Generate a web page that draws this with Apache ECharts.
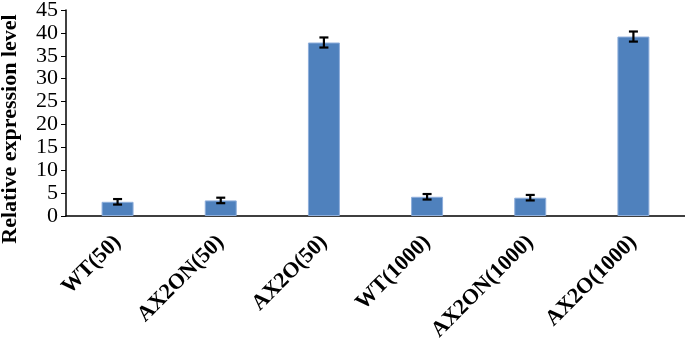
<!DOCTYPE html>
<html>
<head>
<meta charset="utf-8">
<script src="https://cdn.jsdelivr.net/npm/echarts@6/dist/echarts.min.js"></script>
<style>html,body{margin:0;padding:0;background:#fff}#c{width:685px;height:340px}</style>
</head>
<body>
<div id="c"></div>
<script>
var categories = ['WT(50)', 'AX2ON(50)', 'AX2O(50)', 'WT(1000)', 'AX2ON(1000)', 'AX2O(1000)'];
var values = [3.1, 3.4, 37.9, 4.2, 4.0, 39.2];
var errors = [0.6, 0.6, 1.1, 0.6, 0.6, 1.1];
var yTicks = [0, 5, 10, 15, 20, 25, 30, 35, 40, 45];

var serif = '"Liberation Serif", "Times New Roman", serif';
var chart = echarts.init(document.getElementById('c'), null, {renderer: 'canvas'});
var errData = values.map(function (v, i) { return [i, v - errors[i], v + errors[i]]; });

chart.setOption({
  animation: false,
  grid: {left: 66, right: 0, top: 10, bottom: 124, containLabel: false, outerBoundsMode: 'none'},
  xAxis: {
    type: 'category',
    data: categories,
    axisLine: {lineStyle: {color: '#000', width: 1.5}},
    axisTick: {show: false},
    axisLabel: {rotate: 45, margin: 23, interval: 0, hideOverlap: false, color: '#000', fontFamily: serif, fontWeight: 'bold', fontSize: 22}
  },
  yAxis: {
    type: 'value',
    min: yTicks[0], max: yTicks[yTicks.length - 1], interval: 5,
    name: 'Relative expression level',
    nameLocation: 'middle',
    nameGap: 45,
    nameTextStyle: {color: '#000', fontFamily: serif, fontWeight: 'bold', fontSize: 22, padding: [0, 32, 0, 0]},
    axisLine: {show: true, onZero: false, lineStyle: {color: '#000', width: 1.5}},
    axisTick: {show: true, length: 5, lineStyle: {color: '#000', width: 1}},
    splitLine: {show: false},
    axisLabel: {margin: 8, hideOverlap: false, color: '#000', fontFamily: serif, fontSize: 22}
  },
  series: [
    {
      type: 'bar',
      data: values,
      barWidth: '31%',
      itemStyle: {color: '#4f81bd', borderColor: '#8eaedb', borderWidth: 1}
    },
    {
      type: 'custom',
      data: errData,
      z: 10,
      renderItem: function (params, api) {
        var x = api.value(0);
        var lo = api.coord([x, api.value(1)]);
        var hi = api.coord([x, api.value(2)]);
        var hw = 4.5;
        var st = {stroke: '#000', lineWidth: 2.2};
        return {
          type: 'group',
          children: [
            {type: 'line', shape: {x1: lo[0], y1: lo[1], x2: hi[0], y2: hi[1]}, style: st},
            {type: 'line', shape: {x1: lo[0] - hw, y1: lo[1], x2: lo[0] + hw, y2: lo[1]}, style: st},
            {type: 'line', shape: {x1: hi[0] - hw, y1: hi[1], x2: hi[0] + hw, y2: hi[1]}, style: st}
          ]
        };
      }
    }
  ]
});
</script>
</body>
</html>
